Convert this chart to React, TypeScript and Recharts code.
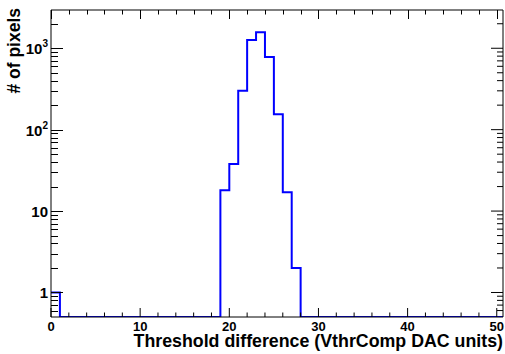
import { LineChart, Line, XAxis, YAxis } from "recharts";

// counts per bin, bins of width 1 starting at 0
const BIN_LOW = 0;
const BIN_WIDTH = 1;
const COUNTS = [
  1, 0, 0, 0, 0, 0, 0, 0, 0, 0,
  0, 0, 0, 0, 0, 0, 0, 0, 0, 18,
  38, 300, 1260, 1570, 780, 155, 17, 2, 0, 0,
  0, 0, 0, 0, 0, 0, 0, 0, 0, 0,
  0, 0, 0, 0, 0, 0, 0, 0, 0, 0,
  0,
];

const X_MAX = 50.7;
const X_MAJOR = [0, 10, 20, 30, 40, 50];
const X_MINOR_STEP = 2;

const Y_MIN = 0.5;
const Y_MAX = 2950;
const Y_TICKS = [
  0.6, 0.7, 0.8, 0.9,
  1, 2, 3, 4, 5, 6, 7, 8, 9,
  10, 20, 30, 40, 50, 60, 70, 80, 90,
  100, 200, 300, 400, 500, 600, 700, 800, 900,
  1000, 2000,
];

const X_TITLE = "Threshold difference (VthrComp DAC units)";
const Y_TITLE = "# of pixels";

const FONT = '"Liberation Sans", Arial, Helvetica, sans-serif';
const BLUE = "#0000ff";

// frame layout
const W = 505;
const H = 354;
const LEFT_W = 51;
const TOP_H = 10;
const BOTTOM_H = 37;
const RIGHT_W = 2;
const PLOT_R = W - RIGHT_W;
const PLOT_B = H - BOTTOM_H;

const xTicks: number[] = [];
for (let v = 0; v <= 50; v += X_MINOR_STEP) xTicks.push(v);

const rows = COUNTS.map((c, i) => ({
  x: BIN_LOW + i * BIN_WIDTH,
  y: Math.max(c, Y_MIN),
}));
rows.push({
  x: BIN_LOW + COUNTS.length * BIN_WIDTH,
  y: Math.max(COUNTS[COUNTS.length - 1], Y_MIN),
});

// same mapping as the chart axes, used for the mirrored tick marks
const sx = (v: number) => LEFT_W + (v / X_MAX) * (PLOT_R - LEFT_W);
const sy = (v: number) =>
  PLOT_B -
  ((Math.log10(v) - Math.log10(Y_MIN)) / (Math.log10(Y_MAX) - Math.log10(Y_MIN))) *
    (PLOT_B - TOP_H);
const crisp = (p: number) => Math.round(p) + 0.5;

function isDecade(v: number) {
  const l = Math.log10(v);
  return Math.abs(l - Math.round(l)) < 1e-6;
}

function BottomTick(props: any) {
  const x = Number(props.x);
  const y = Number(props.y);
  const v = props.payload.value;
  const major = X_MAJOR.includes(v);
  return (
    <g>
      <line x1={x} x2={x} y1={y} y2={y - (major ? 9 : 4.5)} stroke="#000" strokeWidth={1} />
      {major && (
        <text
          x={x}
          y={y + 14}
          textAnchor="middle"
          fontFamily={FONT}
          fontWeight="bold"
          fontSize={13}
          fill="#000"
        >
          {v}
        </text>
      )}
    </g>
  );
}

function LeftLabel(props: any) {
  const x = Number(props.x);
  const y = Number(props.y);
  const v = props.payload.value;
  if (!isDecade(v)) return <g />;
  const exp = Math.round(Math.log10(v));
  return (
    <text
      x={x - 3}
      y={y + 6}
      textAnchor="end"
      fontFamily={FONT}
      fontWeight="bold"
      fontSize={15}
      fill="#000"
    >
      {exp <= 1 ? (
        String(v)
      ) : (
        <>
          10
          <tspan dy={-7} fontSize={10}>
            {exp}
          </tspan>
        </>
      )}
    </text>
  );
}

function RightTick(props: any) {
  const x = Number(props.x);
  const y = Number(props.y);
  const major = isDecade(props.payload.value);
  return <line x1={x} x2={x - (major ? 12 : 6)} y1={y} y2={y} stroke="#000" strokeWidth={1} />;
}

export default function App() {
  return (
    <div style={{ position: "absolute", left: 0, top: 0, width: W, height: H, background: "#fff" }}>
      <LineChart width={W} height={H} data={rows} margin={{ top: 0, right: 0, bottom: 0, left: 0 }}>
        <YAxis
          yAxisId="left"
          type="number"
          scale="log"
          domain={[Y_MIN, Y_MAX]}
          allowDataOverflow
          ticks={Y_TICKS}
          interval={0}
          width={LEFT_W}
          tickSize={0}
          tickMargin={0}
          tickLine={false}
          axisLine={{ stroke: "#000" }}
          tick={<LeftLabel />}
        />
        <YAxis
          yAxisId="right"
          orientation="right"
          type="number"
          scale="log"
          domain={[Y_MIN, Y_MAX]}
          allowDataOverflow
          ticks={Y_TICKS}
          interval={0}
          width={RIGHT_W}
          tickSize={0}
          tickMargin={0}
          tickLine={false}
          axisLine={{ stroke: "#000" }}
          tick={<RightTick />}
        />
        <XAxis
          xAxisId="bottom"
          dataKey="x"
          type="number"
          domain={[0, X_MAX]}
          allowDataOverflow
          ticks={xTicks}
          interval={0}
          height={BOTTOM_H}
          tickSize={0}
          tickMargin={0}
          tickLine={false}
          axisLine={{ stroke: "#000" }}
          tick={<BottomTick />}
        />
        <XAxis
          xAxisId="top"
          orientation="top"
          dataKey="x"
          type="number"
          domain={[0, X_MAX]}
          allowDataOverflow
          height={TOP_H}
          tick={false}
          tickLine={false}
          axisLine={{ stroke: "#000" }}
        />
        <Line
          xAxisId="bottom"
          yAxisId="left"
          dataKey="y"
          type="stepAfter"
          stroke={BLUE}
          strokeWidth={2}
          dot={false}
          activeDot={false}
          isAnimationActive={false}
        />
      </LineChart>
      <svg
        width={W}
        height={H}
        style={{ position: "absolute", left: 0, top: 0, pointerEvents: "none", overflow: "visible" }}
      >
        {/* inward ticks on the left and top frame edges */}
        <g stroke="#000" strokeWidth={1}>
          {Y_TICKS.map((v) => (
            <line
              key={`ly-${v}`}
              x1={LEFT_W}
              x2={LEFT_W + (isDecade(v) ? 12 : 7)}
              y1={crisp(sy(v))}
              y2={crisp(sy(v))}
            />
          ))}
          {xTicks.map((v) => (
            <line
              key={`tx-${v}`}
              x1={crisp(sx(v))}
              x2={crisp(sx(v))}
              y1={TOP_H}
              y2={TOP_H + (X_MAJOR.includes(v) ? 9 : 4.5)}
            />
          ))}
        </g>
        <text
          x={503}
          y={347}
          textAnchor="end"
          fontFamily={FONT}
          fontWeight="bold"
          fontSize={17.8}
          fill="#000"
        >
          {X_TITLE}
        </text>
        <text
          transform="translate(20,8) rotate(-90)"
          textAnchor="end"
          fontFamily={FONT}
          fontWeight="bold"
          fontSize={17.5}
          fill="#000"
        >
          {Y_TITLE}
        </text>
      </svg>
    </div>
  );
}
